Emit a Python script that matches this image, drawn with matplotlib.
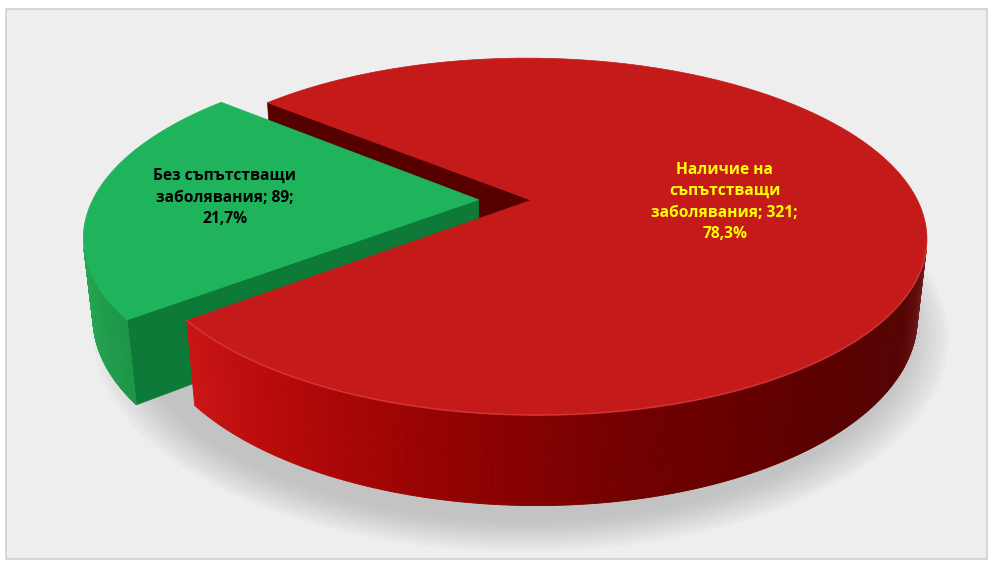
import numpy as np
import matplotlib
matplotlib.use("Agg")
import matplotlib.pyplot as plt
from matplotlib.patches import Polygon, Rectangle

# ---------------- data ----------------
categories = ["Без съпътстващи\nзаболявания", "Наличие на\nсъпътстващи\nзаболявания"]
values = [89, 321]
top_colors = ["#1fb45c", "#c51a1a"]
label_colors = ["#000000", "#ffff00"]

# ---------------- 3D geometry (style) ----------------
W, H = 992, 569
CX, CY = 505.0, 200.0
F, DIST = 1720.0, 4.41
XSCALE = 0.99
ELEV = np.deg2rad(26.0)
S, C = np.sin(ELEV), np.cos(ELEV)
THICK = 0.225
EXPLODE = 0.068
START = 139.8

def proj(X, Y, Z):
    X, Y, Z = np.asarray(X, float), np.asarray(Y, float), np.asarray(Z, float)
    yc = S * Y + C * Z
    zc = C * Y - S * Z + DIST
    return CX + XSCALE * F * X / zc, CY - F * yc / zc

total = float(sum(values))
fracs = [v / total for v in values]
spans = []
a = START
for fr in fracs:
    spans.append((a, a + 360.0 * fr))
    a += 360.0 * fr

offsets = []
for (a0, a1) in spans:
    m = np.deg2rad((a0 + a1) / 2)
    offsets.append((EXPLODE * np.cos(m), EXPLODE * np.sin(m)))

fig = plt.figure(figsize=(W / 100, H / 100), dpi=100)
fig.patch.set_facecolor("white")
ax = fig.add_axes([0, 0, 1, 1])
ax.set_xlim(0, W)
ax.set_ylim(H, 0)
ax.axis("off")

ax.add_patch(Rectangle((6, 9), 981, 550, facecolor="#eeeeee", edgecolor="#d0d0d0", lw=1.2, zorder=0))

# soft shadow under the pie
th = np.linspace(0, 2 * np.pi, 200)
for r in np.linspace(1.10, 1.0, 11):
    xs, ys = proj(r * np.cos(th) + 0.04, r * np.sin(th) - 0.03, -THICK - 0.02)
    ax.add_patch(Polygon(np.c_[xs, ys], closed=True, facecolor="#8a8a8a", alpha=0.045, lw=0, zorder=1))


def top_poly(i):
    a0, a1 = spans[i]
    ox, oy = offsets[i]
    ang = np.deg2rad(np.linspace(a0, a1, 200))
    X = np.r_[ox, ox + np.cos(ang)]
    Y = np.r_[oy, oy + np.sin(ang)]
    xs, ys = proj(X, Y, np.zeros_like(X))
    return np.c_[xs, ys]


def cut_face(i, edge_angle, color, z):
    ox, oy = offsets[i]
    e = np.deg2rad(edge_angle)
    X = [ox, ox + np.cos(e), ox + np.cos(e), ox]
    Y = [oy, oy + np.sin(e), oy + np.sin(e), oy]
    Z = [0, 0, -THICK, -THICK]
    xs, ys = proj(X, Y, Z)
    ax.add_patch(Polygon(np.c_[xs, ys], closed=True, facecolor=color, edgecolor=color, lw=0.5, zorder=z))


def side(i, keys, z):
    a0, a1 = spans[i]
    ox, oy = offsets[i]
    angs = np.linspace(a0, a1, 600)
    rad = np.deg2rad(angs)
    vis = (-ox * np.cos(rad) - oy * np.sin(rad) - 1 - DIST * C * np.sin(rad)) > 0
    ka = np.array([k[0] for k in keys])
    kc = np.array([k[1] for k in keys]) / 255.0
    for j in range(len(angs) - 1):
        if not (vis[j] and vis[j + 1]):
            continue
        r0, r1 = rad[j], rad[j + 1]
        X = [ox + np.cos(r0), ox + np.cos(r1), ox + np.cos(r1), ox + np.cos(r0)]
        Y = [oy + np.sin(r0), oy + np.sin(r1), oy + np.sin(r1), oy + np.sin(r0)]
        Z = [0, 0, -THICK, -THICK]
        xs, ys = proj(X, Y, Z)
        am = (angs[j] + angs[j + 1]) / 2 % 360
        col = [np.interp(am, ka, kc[:, q]) for q in range(3)]
        ax.add_patch(Polygon(np.c_[xs, ys], closed=True, facecolor=col, edgecolor=col, lw=0.6, zorder=z))
    sel = angs[vis]
    if len(sel) > 1:
        rr = np.deg2rad(sel)
        xs, ys = proj(ox + np.cos(rr), oy + np.sin(rr), np.zeros_like(rr))
        return xs, ys
    return None


green, red = 0, 1

cut_face(red, spans[red][1], "#560000", 2)
cut_face(green, spans[green][1], "#0d7a37", 3)
g_keys = [(180, (45, 175, 90)), (200, (38, 165, 82)), (217, (30, 150, 72)), (360, (30, 150, 72))]
side(green, g_keys, 3)
ax.add_patch(Polygon(top_poly(green), closed=True, facecolor=top_colors[green], edgecolor=top_colors[green], lw=0.5, zorder=4))

r_keys = [(200, (205, 22, 22)), (217, (205, 22, 22)), (235, (185, 10, 10)), (258, (150, 2, 2)),
          (280, (115, 0, 0)), (310, (90, 0, 0)), (330, (86, 4, 4)), (340, (104, 20, 20)), (350, (122, 36, 36)), (360, (122, 36, 36))]
hl = side(red, r_keys, 5)
ax.add_patch(Polygon(top_poly(red), closed=True, facecolor=top_colors[red], edgecolor=top_colors[red], lw=0.5, zorder=6))
if hl is not None:
    ax.plot(hl[0], hl[1], color="#e24a4a", lw=1.2, alpha=0.55, zorder=7, solid_capstyle="round")

# labels
label_r = [0.66, 0.5]
for i in range(2):
    a0, a1 = spans[i]
    ox, oy = offsets[i]
    m = np.deg2rad((a0 + a1) / 2)
    lx, ly = proj(ox + label_r[i] * np.cos(m), oy + label_r[i] * np.sin(m), 0.0)
    pct = f"{100 * fracs[i]:.1f}".replace(".", ",") + "%"
    txt = f"{categories[i]}; {values[i]};\n{pct}"
    ax.text(float(lx), float(ly), txt, ha="center", va="center", color=label_colors[i],
            fontsize=11.2, fontweight="bold", family=["Open Sans", "DejaVu Sans"],
            linespacing=1.45, zorder=10)

fig.savefig("out.png", dpi=100, facecolor="white")
